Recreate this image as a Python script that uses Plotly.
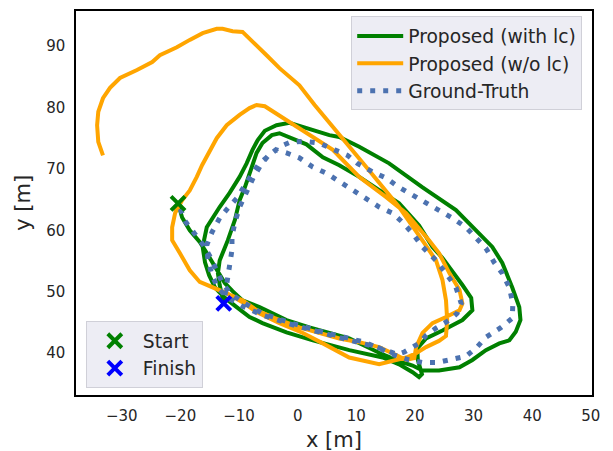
import plotly.graph_objects as go

# Proposed (with loop closure)
lc_x = [-20.4, -19.7, -18.4, -16.7, -15.3, -13.8, -12.4, -11.1, -9.4,
        -6.5, -4.8, -1.9, 2.0, 5.4, 8.8, 11.7, 14.5, 17.3, 19.6, 21.3, 24.1, 27.6, 29.8, 32.1, 34.4, 36.1,
        37.2, 38.0, 37.8, 36.6, 34.9, 33.2, 31.0, 28.7, 27.0, 21.3, 15.6, 10.5, 7.1, 5.4, 2.0, -1.4, -3.6,
        -5.6, -6.8, -7.7, -8.7, -9.9, -11.6, -13.3, -15.5, -16.2, -15.8, -15.1, -14.1, -12.4, -10.4,
        -8.2, -6.0, -1.9, 2.6, 8.8, 14.5, 17.3, 19.6, 20.7, 21.2, 20.5, 20.4, 21.9, 24.7, 28.1, 29.8, 29.6,
        28.1, 26.4, 24.7, 23.0, 20.7, 17.3, 13.9, 10.5, 7.1, 4.3, 1.5, -0.9, -3.1, -4.4, -6.0, -7.0, -7.8,
        -9.0, -9.9, -10.7, -11.9, -13.3, -13.6, -13.3, -12.6]
lc_y = [64.4, 62.1, 60.0, 58.1, 56.0, 53.5, 51.4, 50.1, 48.6,
        47.5, 46.7, 45.4, 44.2, 43.3, 42.4, 41.1, 39.8, 38.7, 38.0, 37.2, 37.2, 37.7, 38.9, 40.5, 41.6, 42.1,
        43.5, 45.4, 47.5, 50.7, 54.7, 57.3, 59.5, 61.7, 63.3, 67.0, 70.9, 73.6, 75.2, 75.5, 76.5, 77.5, 77.1,
        76.2, 74.7, 73.1, 70.9, 68.7, 66.1, 63.8, 60.5, 57.3, 54.8, 52.7, 50.7, 49.0, 47.5,
        45.9, 44.9, 43.4, 42.1, 40.5, 39.3, 38.2, 36.9, 36.1, 36.6, 38.9, 40.8, 42.4, 43.7, 45.4, 47.0, 49.0,
        51.1, 53.2, 55.5, 57.3, 60.8, 64.4, 66.5, 68.7, 70.6, 71.9, 74.0, 75.0, 75.8, 75.5, 74.2, 72.6, 70.3,
        67.0, 64.9, 61.7, 58.4, 55.1, 53.0, 51.1, 48.1]

# Proposed (without loop closure)
wo_x = [-20.4, -20.9, -21.4, -21.4, -20.1, -18.4, -16.7, -14.5, -12.1, -9.4,
        -7.0, -3.9, 0.3, 3.7, 7.1, 10.5, 13.9, 16.8, 18.5, 19.9, 20.2, 21.3, 23.0, 25.3, 27.6, 28.1,
        27.6, 25.9, 24.1, 22.4, 18.5, 15.1, 10.5, 6.0, 1.5, -2.6, -5.6, -7.0, -8.2, -9.9, -12.1, -13.8,
        -15.5, -16.3, -17.2, -18.4, -19.7, -20.9, -21.4, -21.4, -20.1, -18.4, -16.7, -14.5, -12.1, -9.4,
        -7.0, -3.1, 0.9, 4.3, 8.8, 13.9, 16.2, 18.5, 20.2, 21.9, 24.1, 25.3, 25.5, 25.3, 24.7, 23.6, 21.6,
        17.3, 11.7, 6.0, 2.9, 0.3, -3.1, -5.3, -7.7, -9.4, -11.1, -12.8, -13.8, -16.2, -18.4, -20.6,
        -23.5, -24.8, -27.4, -30.3, -32.0, -33.2, -34.0, -34.2, -34.0, -33.2]
wo_y = [64.4, 62.8, 60.5, 58.4, 56.3, 53.5, 51.6, 50.7, 49.8, 48.6,
        47.0, 45.7, 44.2, 43.3, 42.4, 41.8, 41.0, 39.7, 38.9, 39.2, 41.0, 43.3, 44.9, 45.9, 47.0, 48.1,
        50.3, 53.0, 56.3, 58.4, 62.8, 65.4, 68.7, 73.1, 75.8, 78.4, 80.2, 80.4, 79.9, 78.8, 77.1, 75.0,
        72.2, 70.6, 68.7, 66.5, 64.9, 62.8, 60.5, 58.4, 56.3, 53.5, 51.6, 50.7, 49.8, 48.3,
        46.7, 44.9, 43.3, 41.6, 39.3, 38.2, 38.7, 39.3, 40.0, 41.0, 42.0, 42.8, 45.4, 48.6, 51.9, 55.1, 57.9,
        63.8, 70.3, 76.8, 80.4, 83.6, 86.4, 88.5, 90.7, 92.3, 92.4, 92.8, 92.8, 92.1, 91.0, 89.8,
        88.5, 87.4, 86.1, 84.8, 83.2, 81.5, 79.3, 77.1, 74.4, 72.2]

# Ground truth
gt_x = [-20.0, -19.2, -17.6, -16.0, -14.8, -13.8, -12.7, -11.3, -9.3,
        -6.1, -1.4, 3.7, 8.3, 11.4, 13.9, 16.5, 19.0, 21.3, 23.8, 26.2, 28.7, 30.6, 32.1, 34.7, 36.6,
        36.7, 36.1, 34.9, 33.5, 32.1, 30.4, 28.7, 26.4, 24.1, 21.9, 19.6, 17.3, 15.1, 12.8, 10.2, 8.5,
        6.3, 3.7, 1.0, -1.4, -3.1, -5.3, -6.5, -7.7, -8.7, -9.5, -10.4, -11.9, -13.3, -14.6, -15.5,
        -15.3, -14.6, -13.6, -11.9, -9.5, -6.0, -1.5, 3.5, 8.5, 13.5, 17.0, 18.2, 20.7, 21.9, 23.6,
        25.9, 27.2, 27.9, 27.0, 25.3, 23.6, 21.3, 19.6, 17.9, 16.2, 13.9, 11.7, 9.4, 7.1, 4.9, 2.6,
        0.3, -1.9, -3.6, -4.8, -6.1, -7.5, -8.8, -9.9, -10.7, -11.2, -11.2, -11.6, -12.1, -12.4, -12.6]
gt_y = [63.5, 61.5, 59.5, 57.5, 55.5, 53.3, 51.2, 49.6, 48.3,
        46.5, 45.0, 43.6, 42.4, 41.8, 40.8, 39.7, 38.9, 38.5, 38.5, 38.9, 39.5, 41.0, 42.6, 44.2, 45.7,
        48.1, 50.7, 53.0, 54.8, 57.1, 58.9, 60.5, 62.0, 63.3, 64.6, 65.7, 67.0, 68.5, 69.5, 70.9, 72.2,
        73.1, 74.2, 74.5, 74.3, 73.6, 71.9, 70.9, 69.3, 67.9, 66.5, 65.2, 63.6, 62.0, 59.7, 57.6,
        55.1, 52.7, 50.6, 49.0, 47.7, 46.2, 44.8, 43.4, 42.2, 41.0, 39.8, 40.2, 41.6, 42.9, 44.1,
        45.4, 46.5, 48.1, 50.7, 53.0, 55.1, 57.3, 59.5, 61.3, 62.8, 63.8, 65.2, 66.5, 67.9, 69.3, 70.3,
        71.8, 72.6, 73.1, 72.4, 70.9, 68.7, 66.2, 63.8, 61.3, 58.9, 56.8, 54.3, 51.9, 49.4, 48.1]

start_x, start_y = [-20.4], [64.4]
finish_x, finish_y = [-12.6], [48.1]

x_ticks = [-30, -20, -10, 0, 10, 20, 30, 40, 50]
y_ticks = [40, 50, 60, 70, 80, 90]
x_title = "x [m]"
y_title = "y [m]"

FONT = "DejaVu Sans"
TXT = "#262626"

fig = go.Figure()
fig.add_trace(go.Scatter(x=lc_x, y=lc_y, mode="lines", name="Proposed (with lc)",
                         line=dict(color="green", width=4), legend="legend"))
fig.add_trace(go.Scatter(x=wo_x, y=wo_y, mode="lines", name="Proposed (w/o lc)",
                         line=dict(color="orange", width=4), legend="legend"))
fig.add_trace(go.Scatter(x=gt_x, y=gt_y, mode="lines", name="Ground-Truth",
                         line=dict(color="#4C72B0", width=5, dash="5px,8px"), legend="legend"))
fig.add_trace(go.Scatter(x=start_x, y=start_y, mode="markers", name="Start",
                         marker=dict(symbol="x-thin", size=14, line=dict(color="green", width=4)),
                         legend="legend2"))
fig.add_trace(go.Scatter(x=finish_x, y=finish_y, mode="markers", name="Finish",
                         marker=dict(symbol="x-thin", size=14, line=dict(color="blue", width=4)),
                         legend="legend2"))

legend_style = dict(bgcolor="rgba(234,234,242,0.85)", bordercolor="#d0d0d8", borderwidth=1,
                    itemwidth=46, font=dict(family=FONT, size=18.7, color=TXT))

fig.update_layout(
    width=613, height=451,
    margin=dict(l=76, r=21, t=11, b=56),
    plot_bgcolor="white", paper_bgcolor="white",
    font=dict(family=FONT, color=TXT),
    legend=dict(x=0.981, y=0.986, xanchor="right", yanchor="top", **legend_style),
    legend2=dict(x=0.019, y=0.018, xanchor="left", yanchor="bottom", **legend_style),
    xaxis=dict(range=[-37.8, 50.2], tickvals=x_ticks, showgrid=False, zeroline=False,
               showline=True, mirror=True, linecolor="black", linewidth=1.5,
               ticks="outside", ticklen=6, tickcolor="rgba(0,0,0,0)", automargin=False,
               tickfont=dict(family=FONT, size=15, color=TXT)),
    yaxis=dict(range=[33.2, 95.7], tickvals=y_ticks, showgrid=False, zeroline=False,
               showline=True, mirror=True, linecolor="black", linewidth=1.5,
               ticks="outside", ticklen=6, tickcolor="rgba(0,0,0,0)", automargin=False,
               tickfont=dict(family=FONT, size=15, color=TXT)),
    annotations=[
        dict(text=x_title, xref="paper", yref="paper", x=0.5, y=-0.118, xanchor="center",
             yanchor="middle", showarrow=False, font=dict(family=FONT, size=21, color=TXT)),
        dict(text=y_title, xref="paper", yref="paper", x=-0.103, y=0.5, xanchor="center",
             yanchor="middle", textangle=-90, showarrow=False,
             font=dict(family=FONT, size=21, color=TXT)),
    ],
)

fig.write_html("out.html")
